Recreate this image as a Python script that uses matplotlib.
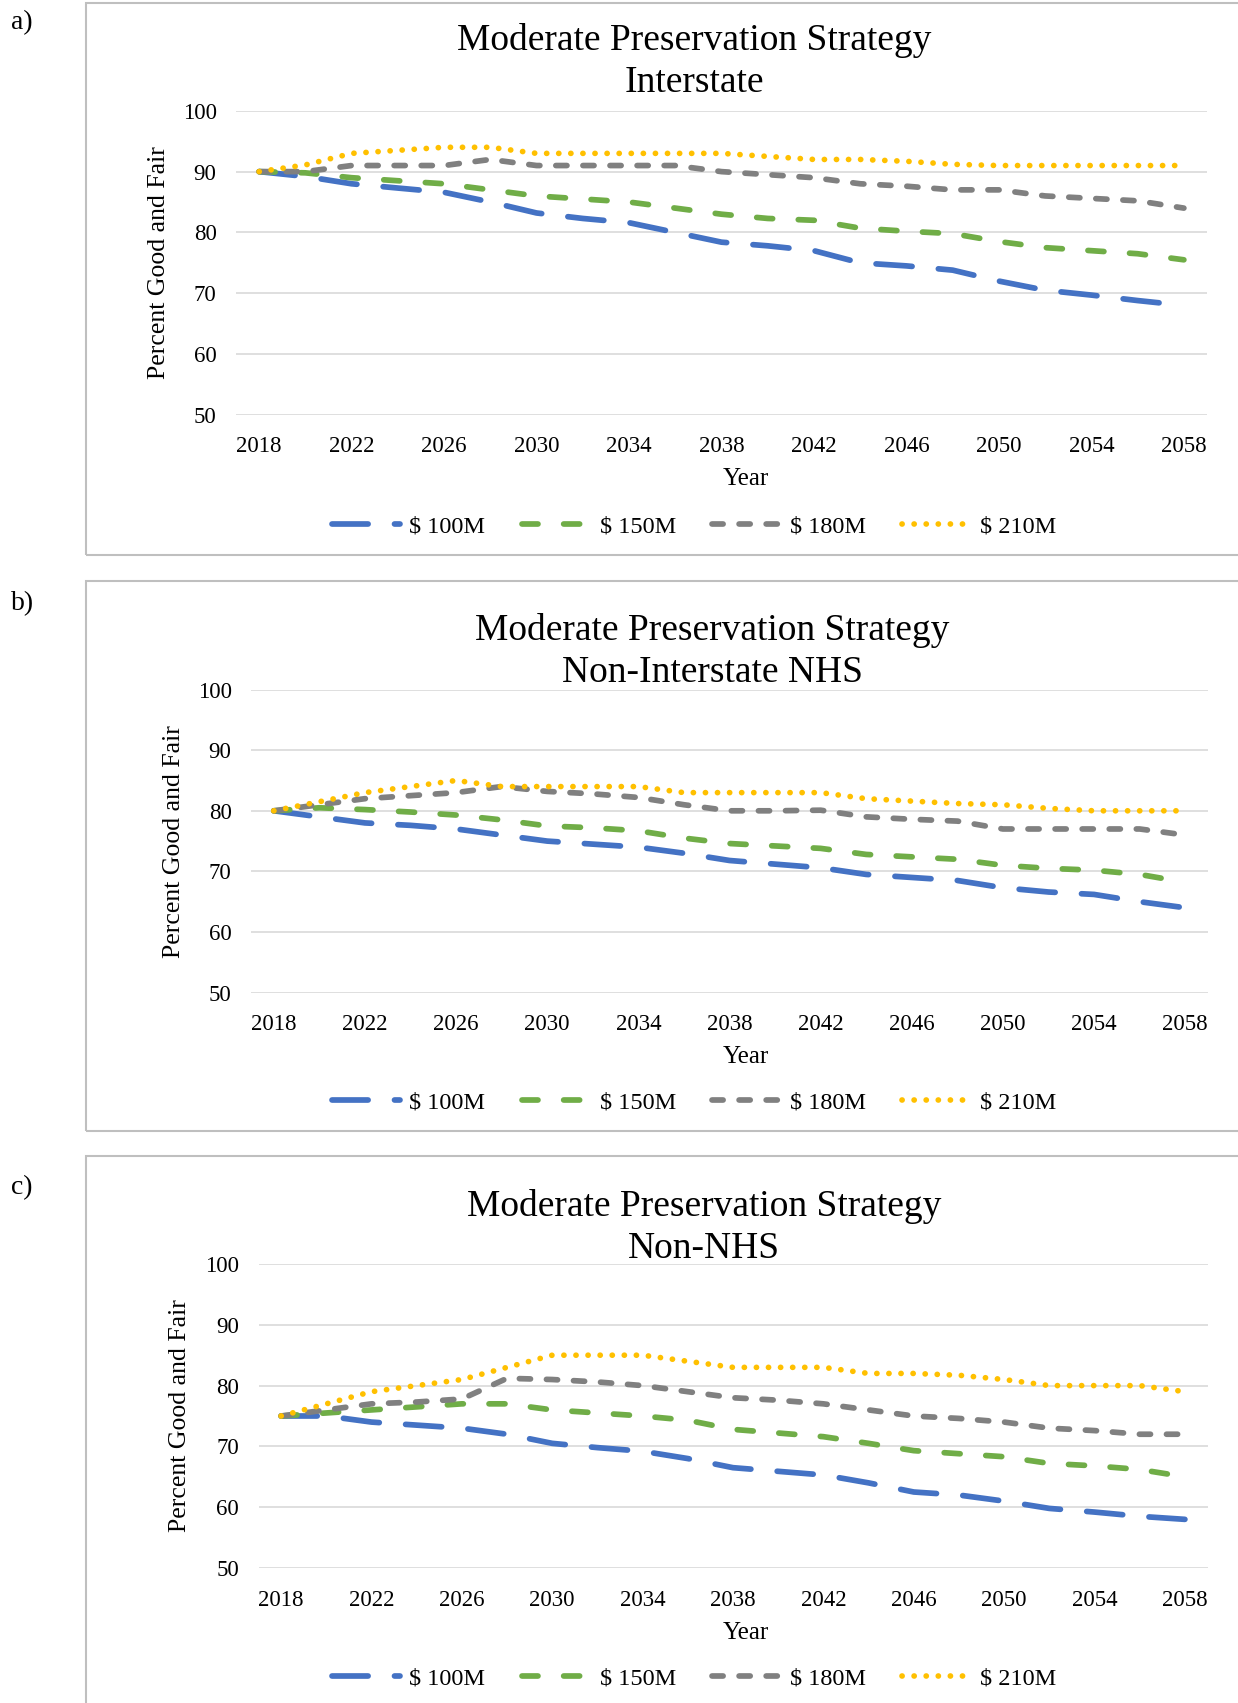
import matplotlib
matplotlib.use("Agg")
import matplotlib.pyplot as plt
from matplotlib.patches import Rectangle

plt.rcParams["font.family"] = ["Liberation Serif", "DejaVu Serif"]
plt.rcParams["lines.scale_dashes"] = False

W, H = 1238, 1703  # 输出像素

years = [2018, 2020, 2022, 2024, 2026, 2028, 2030, 2032, 2034, 2036, 2038,
         2040, 2042, 2044, 2046, 2048, 2050, 2052, 2054, 2056, 2058]
year_ticks = [2018, 2022, 2026, 2030, 2034, 2038, 2042, 2046, 2050, 2054, 2058]
y_ticks = [50, 60, 70, 80, 90, 100]
budget_labels = ["$ 100M", "$ 150M", "$ 180M", "$ 210M"]
panel_titles = ["Moderate Preservation Strategy\nInterstate",
                "Moderate Preservation Strategy\nNon-Interstate NHS",
                "Moderate Preservation Strategy\nNon-NHS"]
panel_tags = ["a)", "b)", "c)"]

# a) Interstate
a_100 = [90, 89.2, 88, 87.3, 86.6, 85, 83.2, 82.3, 81.6, 80, 78.4, 77.8, 77, 75, 74.5, 73.8, 72, 70.5, 69.7, 68.8, 68]
a_150 = [90, 89.8, 89, 88.5, 88, 87, 86, 85.5, 85, 84, 83, 82.3, 82, 80.7, 80.2, 79.8, 78.5, 77.5, 77, 76.5, 75.5]
a_180 = [90, 90, 91, 91, 91, 92, 91, 91, 91, 91, 90, 89.5, 89, 88, 87.6, 87, 87, 86, 85.6, 85.2, 84]
a_210 = [90, 91.1, 93, 93.5, 94, 94, 93, 93, 93, 93, 93, 92.5, 92, 92, 91.7, 91.2, 91, 91, 91, 91, 91]

# b) Non-Interstate NHS
b_100 = [80, 79, 78, 77.6, 77, 76, 75, 74.5, 74, 73, 71.8, 71.2, 70.6, 69.5, 69, 68.5, 67.3, 66.6, 66.2, 65, 64]
b_150 = [80, 80.5, 80.2, 79.8, 79.3, 78.5, 77.5, 77.2, 76.7, 75.5, 74.6, 74.2, 73.8, 72.8, 72.4, 72, 71, 70.5, 70.2, 69.5, 68.2]
b_180 = [80, 81, 82, 82.5, 83, 84, 83.2, 82.8, 82.2, 81, 80, 80, 80.1, 79, 78.6, 78.3, 77, 77, 77, 77, 76]
b_210 = [80, 81.5, 83, 84, 85, 84, 84, 84, 84, 83, 83, 83, 83, 82, 81.6, 81.2, 81, 80.4, 80, 80, 80]

# c) Non-NHS
c_100 = [75, 75, 74, 73.5, 73, 72, 70.5, 69.8, 69.2, 68, 66.5, 65.9, 65.3, 64, 62.5, 62, 61, 59.8, 59.2, 58.5, 58]
c_150 = [75, 75.5, 76, 76.5, 77, 77, 76, 75.5, 75, 74.3, 72.8, 72.2, 71.6, 70.5, 69.3, 68.8, 68.3, 67.2, 66.8, 66.2, 65]
c_180 = [75, 76, 77, 77.3, 77.8, 81.2, 81, 80.6, 80, 79, 78, 77.6, 77, 76, 75, 74.6, 74, 73, 72.6, 72, 72]
c_210 = [75, 77, 79, 80, 81, 83, 85, 85, 85, 84, 83, 83, 83, 82, 82, 81.7, 81, 80, 80, 80, 79]

panels = [[a_100, a_150, a_180, a_210],
          [b_100, b_150, b_180, b_210],
          [c_100, c_150, c_180, c_210]]

# 线型：颜色 + 虚线样式（单位：点）
STYLES = [
    {"color": "#4472C4", "dashes": (26, 19)},
    {"color": "#70AD47", "dashes": (11.5, 18.5)},
    {"color": "#808080", "dashes": (8, 11.5)},
    {"color": "#FFC000", "dashes": (0.1, 8.6)},
]
LW = 4.1

# 各面板的像素位置：绘图区 (左, 右, 上, 下)、标题、刻度、图例等
LAYOUT = [
    {"ax": (236, 1207, 110.8, 414.9), "title_x": 694, "title_y": (40, 83),
     "box": (86, 3, 555), "tag_y": 23, "ylab_x": 159, "year_y": 479, "leg_y": 526},
    {"ax": (251, 1208, 689.6, 992.6), "title_x": 712, "title_y": (631, 673),
     "box": (86, 581, 1131), "tag_y": 604, "ylab_x": 174, "year_y": 1057, "leg_y": 1102},
    {"ax": (258.5, 1207.5, 1264, 1568), "title_x": 704, "title_y": (1207, 1249),
     "box": (86, 1156, 1712), "tag_y": 1188, "ylab_x": 180, "year_y": 1633, "leg_y": 1678},
]


def fx(px):
    return px / W


def fy(py):
    return 1 - py / H


fig = plt.figure(figsize=(W / 100, H / 100), dpi=100)

for series, title, tag, lay in zip(panels, panel_titles, panel_tags, LAYOUT):
    left, right, top, bottom = lay["ax"]
    ax = fig.add_axes([fx(left), fy(bottom), fx(right) - fx(left), fy(top) - fy(bottom)])

    handles = []
    for values, st in zip(series, STYLES):
        line, = ax.plot(years, values, color=st["color"], linewidth=LW,
                        dashes=st["dashes"], dash_capstyle="round",
                        solid_capstyle="round", zorder=3)
        handles.append(line)

    ax.set_xlim(2017, 2059)
    ax.set_ylim(50, 100)
    ax.set_xticks(year_ticks)
    ax.set_yticks(y_ticks)
    ax.tick_params(length=0, labelsize=16.5, colors="#000000")
    ax.tick_params(axis="x", pad=15.5)
    ax.tick_params(axis="y", pad=14)
    ax.grid(axis="y", color="#D9D9D9", linewidth=1.2, zorder=0)
    for s in ax.spines.values():
        s.set_visible(False)

    cx = lay["title_x"]
    l1, l2 = title.split("\n")
    fig.text(fx(cx), fy(lay["title_y"][0]), l1, ha="center", va="center", fontsize=27)
    fig.text(fx(cx), fy(lay["title_y"][1]), l2, ha="center", va="center", fontsize=27)

    fig.text(fx(lay["ylab_x"]), fy((top + bottom) / 2), "Percent Good and Fair",
             rotation=90, ha="center", va="center", fontsize=18.5)
    fig.text(fx(746), fy(lay["year_y"]), "Year", ha="center", va="center", fontsize=18)

    fig.legend(handles, budget_labels, loc="center", bbox_to_anchor=(fx(694), fy(lay["leg_y"])),
               ncol=4, frameon=False, fontsize=17.5, handlelength=2.8,
               handletextpad=0.4, columnspacing=1.5)

    bx, btop, bbot = lay["box"]
    fig.patches.append(Rectangle((fx(bx), fy(bbot)), fx(1400) - fx(bx), fy(btop) - fy(bbot),
                                 transform=fig.transFigure, fill=False,
                                 edgecolor="#BFBFBF", linewidth=1.5))

    fig.text(fx(11), fy(lay["tag_y"]), tag, ha="left", va="center", fontsize=20)

fig.savefig("out.png", dpi=100)
